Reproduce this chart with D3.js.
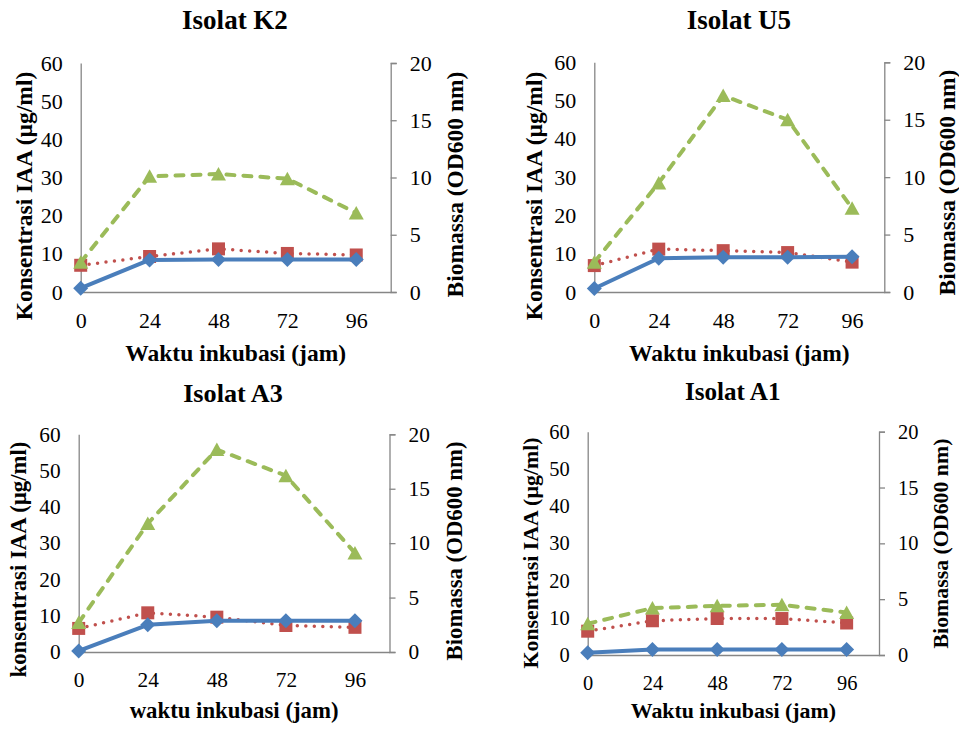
<!DOCTYPE html>
<html lang="id">
<head>
<meta charset="UTF-8">
<title>Isolat K2, U5, A3, A1</title>
<script src="https://d3js.org/d3.v7.min.js"></script>
<style>
  body, html { margin: 0; padding: 0; background: #fff; }
</style>
</head>
<body>
<div id="chart"></div>
<script>
// waktu inkubasi (jam)
const hours = [0, 24, 48, 72, 96];
const leftTicks = [0, 10, 20, 30, 40, 50, 60];
const rightTicks = [0, 5, 10, 15, 20];

// Isolat K2
const k2Blue = [1.0, 8.4, 8.5, 8.5, 8.5];
const k2Red = [7.0, 9.3, 11.3, 10.1, 9.7];
const k2Green = [2.6, 10.1, 10.3, 9.9, 6.9];
// Isolat U5
const u5Blue = [0.9, 8.8, 9.1, 9.1, 9.2];
const u5Red = [6.9, 11.2, 10.8, 10.3, 7.8];
const u5Green = [2.6, 9.5, 17.1, 15.0, 7.3];
// Isolat A3
const a3Blue = [0.3, 7.5, 8.6, 8.6, 8.6];
const a3Red = [6.5, 10.8, 9.6, 7.3, 6.8];
const a3Green = [2.7, 11.8, 18.6, 16.2, 9.1];
// Isolat A1
const a1Blue = [0.6, 1.5, 1.5, 1.5, 1.5];
const a1Red = [6.4, 9.2, 9.8, 9.8, 8.6];
const a1Green = [2.8, 4.2, 4.4, 4.5, 3.8];

const panels = [
  { title: "Isolat K2", yTitle: "Konsentrasi IAA (µg/ml)", xTitle: "Waktu inkubasi (jam)",
    blue: k2Blue, red: k2Red, green: k2Green,
    x0: 80.7, x1: 390.7, y0: 63, y1: 292, s: 1.0,
    titleX: 235, titleY: 29, lTitle: [31.7, 196], rTitle: [463, 184.5], xTitleY: 361 },
  { title: "Isolat U5", yTitle: "Konsentrasi IAA (µg/ml)", xTitle: "Waktu inkubasi (jam)",
    blue: u5Blue, red: u5Red, green: u5Green,
    x0: 594.3, x1: 884.3, y0: 62.3, y1: 292, s: 1.0,
    titleX: 739, titleY: 28.5, lTitle: [541.5, 196], rTitle: [955, 182.5], xTitleY: 361 },
  { title: "Isolat A3", yTitle: "konsentrasi IAA (µg/ml)", xTitle: "waktu inkubasi (jam)",
    blue: a3Blue, red: a3Red, green: a3Green,
    x0: 78.7, x1: 389.5, y0: 434.3, y1: 652, s: 0.97,
    titleX: 233, titleY: 401.5, lTitle: [26, 559.5], rTitle: [461.5, 551], xTitleY: 717.5 },
  { title: "Isolat A1", yTitle: "Konsentrasi IAA (µg/ml)", xTitle: "Waktu inkubasi (jam)",
    blue: a1Blue, red: a1Red, green: a1Green,
    x0: 587.7, x1: 879, y0: 431.7, y1: 655, s: 0.93,
    titleX: 732.7, titleY: 399.5, lTitle: [538.3, 553], rTitle: [948.3, 543.5], xTitleY: 718 }
];

const blueC = "#4a7ebb", redC = "#c0504d", greenC = "#9bbb59", axisC = "#868686";
const serif = "'Liberation Serif', 'Times New Roman', Times, serif";

const svg = d3.select("#chart").append("svg")
  .attr("width", 959).attr("height", 729);

const diamond = "M0,-7.5L7.5,0L0,7.5L-7.5,0Z";
const square = "M-6.5,-6.5H6.5V6.5H-6.5Z";
const triangle = "M0,-7L7.5,6.5H-7.5Z";

panels.forEach(p => {
  const g = svg.append("g");
  const x = d3.scaleLinear().domain([0, 108]).range([p.x0, p.x1]);
  const yL = d3.scaleLinear().domain([0, 60]).range([p.y1, p.y0]);
  const yR = d3.scaleLinear().domain([0, 20]).range([p.y1, p.y0]);
  const tickFs = 22 * p.s, axFs = 23.5 * p.s, titleFs = 27 * p.s;

  // axes
  const ax = d3.axisLeft(yL).tickValues(leftTicks).tickSize(0).tickPadding(18);
  const gl = g.append("g").attr("transform", `translate(${p.x0},0)`).call(ax);
  const ar = d3.axisRight(yR).tickValues(rightTicks).tickSizeOuter(0).tickSize(6).tickPadding(13);
  const gr = g.append("g").attr("transform", `translate(${p.x1},0)`).call(ar);
  const ab = d3.axisBottom(x).tickValues(hours).tickSize(0).tickPadding(20);
  const gb = g.append("g").attr("transform", `translate(0,${p.y1})`).call(ab);
  [gl, gr, gb].forEach(a => {
    a.attr("font-family", null).attr("font-size", null);
    a.select(".domain").attr("stroke", axisC).attr("stroke-width", 1.3);
    a.selectAll(".tick line").attr("stroke", axisC).attr("stroke-width", 1.3);
    a.selectAll("text").style("font-family", serif).style("font-size", tickFs + "px").attr("fill", "#000");
  });

  const label = (txt, size) => g.append("text").text(txt)
    .style("font-family", serif).style("font-weight", "bold").style("font-size", size + "px")
    .attr("text-anchor", "middle").attr("fill", "#000");

  // titles
  label(p.title, titleFs).attr("x", p.titleX).attr("y", p.titleY);
  label(p.xTitle, axFs).attr("x", (p.x0 + p.x1) / 2).attr("y", p.xTitleY);
  label(p.yTitle, axFs).attr("transform", `translate(${p.lTitle[0]},${p.lTitle[1]}) rotate(-90)`);
  label("Biomassa (OD600 nm)", axFs).attr("transform", `translate(${p.rTitle[0]},${p.rTitle[1]}) rotate(-90)`);

  const series = [
    { vals: p.red, y: yL, color: redC, width: 3.5, dash: "0 8.5", cap: "round", shape: square },
    { vals: p.blue, y: yL, color: blueC, width: 4, dash: null, cap: "butt", shape: diamond },
    { vals: p.green, y: yR, color: greenC, width: 4, dash: "8 9", cap: "round", shape: triangle }
  ];
  series.forEach(s => {
    const pts = hours.map((h, i) => [h, s.vals[i]]);
    const line = d3.line().x(d => x(d[0])).y(d => s.y(d[1]));
    g.append("path").datum(pts).attr("d", line).attr("fill", "none")
      .attr("stroke", s.color).attr("stroke-width", s.width)
      .attr("stroke-dasharray", s.dash).attr("stroke-linecap", s.cap)
      .attr("stroke-linejoin", "round");
    g.selectAll(null).data(pts).enter().append("path")
      .attr("d", s.shape).attr("fill", s.color)
      .attr("transform", d => `translate(${x(d[0])},${s.y(d[1])})`);
  });
});
</script>
</body>
</html>
